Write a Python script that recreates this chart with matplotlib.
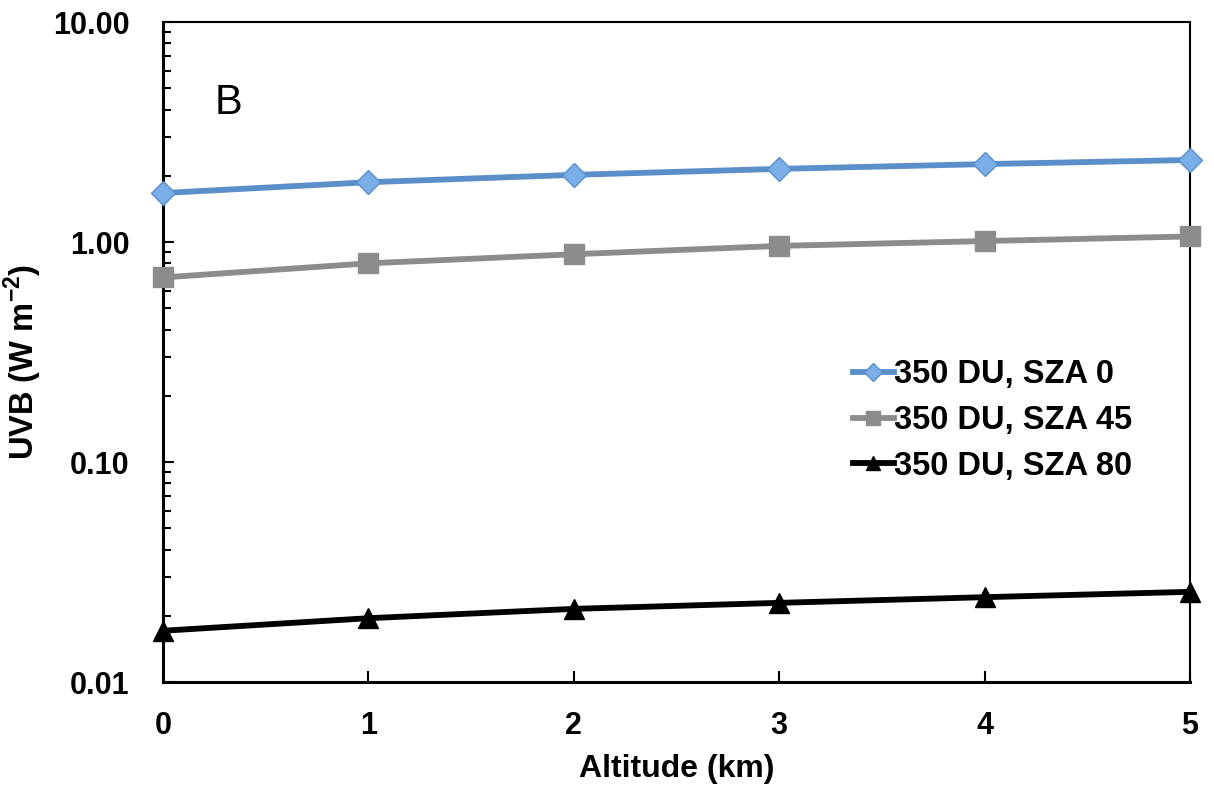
import numpy as np
import matplotlib.pyplot as plt
from matplotlib.ticker import LogLocator, FixedFormatter, FixedLocator

plt.rcParams['font.family'] = ['Liberation Sans', 'DejaVu Sans']
plt.rcParams['mathtext.fontset'] = 'custom'
plt.rcParams['mathtext.rm'] = 'Liberation Sans'
plt.rcParams['mathtext.bf'] = 'Liberation Sans:bold'

altitude = [0, 1, 2, 3, 4, 5]
sza0 = [1.67, 1.87, 2.02, 2.15, 2.26, 2.36]
sza45 = [0.69, 0.80, 0.88, 0.96, 1.01, 1.06]
sza80 = [0.0171, 0.0195, 0.0215, 0.0229, 0.0243, 0.0257]
labels = ['350 DU, SZA 0', '350 DU, SZA 45', '350 DU, SZA 80']

fig = plt.figure(figsize=(12.14, 7.89), dpi=100)
ax = fig.add_axes([0.1343, 0.1356, 0.8459, 0.8365])

ax.plot(altitude, sza0, color='#5b8fc9', lw=4.2, marker='D', ms=12,
        mfc='#7aaee8', mec='#5b8fc9', label=labels[0], clip_on=False, zorder=3)
ax.plot(altitude, sza45, color='#8c8c8c', lw=4.2, marker='s', ms=14,
        mfc='#8c8c8c', mec='#8c8c8c', label=labels[1], clip_on=False, zorder=3)
ax.plot(altitude, sza80, color='black', lw=4.2, marker='^', ms=14,
        mfc='black', mec='black', label=labels[2], clip_on=False, zorder=3)

ax.set_yscale('log')
ax.set_ylim(0.01, 10)
ax.set_xlim(0, 5)
ax.yaxis.set_major_locator(FixedLocator([0.01, 0.1, 1, 10]))
ax.yaxis.set_major_formatter(FixedFormatter(['0.01', '0.10', '1.00', '10.00']))
ax.yaxis.set_minor_locator(LogLocator(base=10, subs=np.arange(2, 10)))
ax.yaxis.set_minor_formatter(FixedFormatter([]))
ax.set_xticks(altitude)

ax.tick_params(axis='both', which='both', direction='in', width=1.5)
ax.tick_params(axis='y', which='major', length=8, pad=24)
ax.tick_params(axis='y', which='minor', length=6)
ax.tick_params(axis='x', which='major', length=8, pad=21)
for t in ax.get_xticklabels() + ax.get_yticklabels():
    t.set_fontsize(22)
    t.set_fontweight('bold')
for s in ax.spines.values():
    s.set_linewidth(1.5)
ax.spines['left'].set_linewidth(2.2)
ax.spines['bottom'].set_linewidth(2.2)

ax.set_xlabel('Altitude (km)', fontsize=23, fontweight='bold', labelpad=9)
ax.set_ylabel('UVB (W m$^{\\mathbf{-2}}$)', fontsize=23.5, fontweight='bold')
ax.yaxis.set_label_coords(-0.116, 0.485)

ax.text(0.25, 3.8, 'B', fontsize=30)

leg = ax.legend(loc='center left', bbox_to_anchor=(0.643, 0.396), frameon=False,
                prop={'size': 23.5, 'weight': 'bold'}, handlelength=1.25,
                handletextpad=0.0, labelspacing=0.45, markerscale=0.75)

fig.savefig('out.png', dpi=100)
